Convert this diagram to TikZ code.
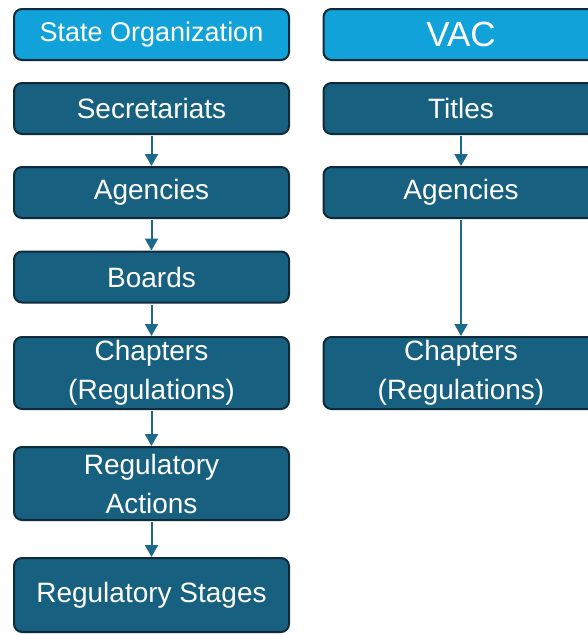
\documentclass[tikz,border=0pt]{standalone}
\usepackage{fontspec}
\setmainfont{Liberation Sans}
\usetikzlibrary{arrows.meta}
\definecolor{headblue}{HTML}{12A2DA}
\definecolor{boxblue}{HTML}{17607F}
\definecolor{boxline}{HTML}{0F2A38}
\definecolor{arrowblue}{HTML}{1B6A8E}
\tikzset{
  levelbox/.style={draw=boxline, line width=2pt, fill=boxblue, rounded corners=8pt,
    minimum width=275pt, minimum height=51pt, text=white, align=center,
    font=\fontsize{28}{39}\selectfont, inner sep=0pt},
  headbox/.style={levelbox, fill=headblue},
  down/.style={-{Triangle[length=12pt,width=13pt]}, draw=arrowblue, line width=2pt, shorten <=1pt}
}
\begin{document}
\begin{tikzpicture}[x=1pt,y=1pt]
	\useasboundingbox (0,0) rectangle (588,-635);
	\clip (0,0) rectangle (588,-635);
	% state organization column
	\node[headbox, font=\fontsize{27}{39}\selectfont](org) at (151.5,-34.5){State Organization};
	\node[levelbox](sec) at (151.5,-108.5){Secretariats};
	\node[levelbox](agL) at (151.5,-192.5){Agencies};
	\node[levelbox](brd) at (151.5,-277){Boards};
	\node[levelbox, minimum height=72pt](chL) at (151.5,-373){Chapters\\(Regulations)};
	\node[levelbox, minimum height=73pt](act) at (151.5,-483.5){Regulatory\\Actions};
	\node[levelbox, minimum height=74pt](stg) at (151.5,-595){Regulatory Stages};
	% VAC column
	\node[headbox, font=\fontsize{35}{40}\selectfont](vac) at (461,-34.5){VAC};
	\node[levelbox](tit) at (461,-108.5){Titles};
	\node[levelbox](agR) at (461,-192.5){Agencies};
	\node[levelbox, minimum height=72pt](chR) at (461,-373){Chapters\\(Regulations)};
	\draw[down](sec) to (agL);
	\draw[down](agL) to (brd);
	\draw[down](brd) to (chL);
	\draw[down](chL) to (act);
	\draw[down](act) to (stg);
	\draw[down](tit) to (agR);
	\draw[down](agR) to (chR);
\end{tikzpicture}
\end{document}
